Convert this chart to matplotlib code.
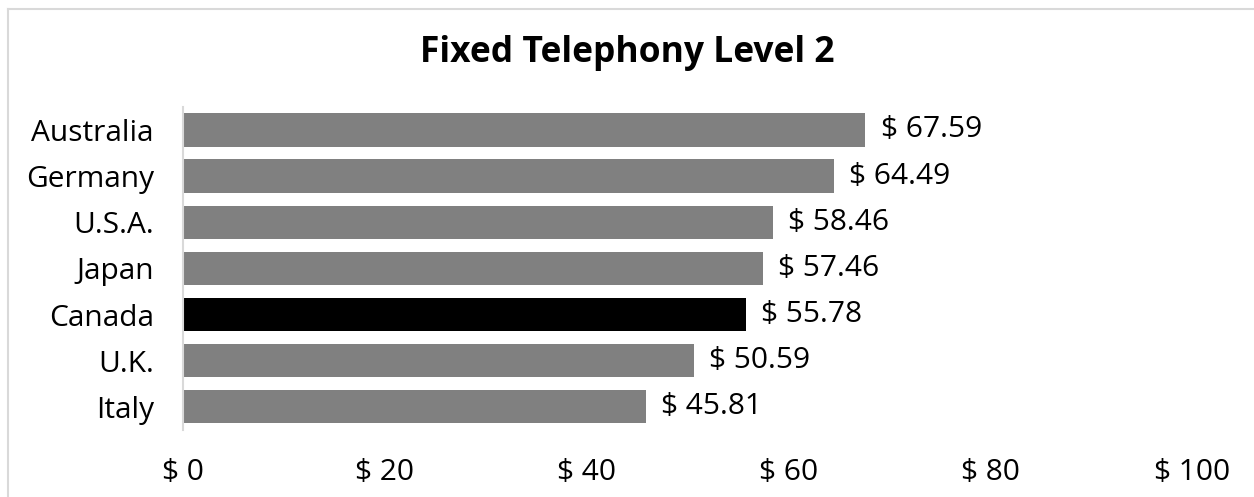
import matplotlib
matplotlib.use("Agg")
import matplotlib.pyplot as plt
from matplotlib.lines import Line2D

# data (top to bottom)
countries = ["Australia", "Germany", "U.S.A.", "Japan", "Canada", "U.K.", "Italy"]
prices = [67.59, 64.49, 58.46, 57.46, 55.78, 50.59, 45.81]
highlight = "Canada"
x_ticks = [0, 20, 40, 60, 80, 100]

plt.rcParams['font.family'] = ['Open Sans', 'DejaVu Sans']

fig = plt.figure(figsize=(12.54, 4.97), dpi=100)
ax = fig.add_axes([0.146, 0.135, 0.805, 0.650])

colors = ['#000000' if c == highlight else '#808080' for c in countries]
ypos = list(range(len(countries)))
bars = ax.barh(ypos, prices, height=0.72, color=colors)

for bar, v in zip(bars, prices):
    ax.annotate(f"$ {v:.2f}", xy=(bar.get_width(), bar.get_y() + bar.get_height() / 2),
                xytext=(11, 0), textcoords="offset points",
                ha='left', va='center', fontsize=21.5, color='black')

ax.set_yticks(ypos)
ax.set_yticklabels(countries, fontsize=21.5)
ax.set_ylim(len(countries) - 0.5, -0.5)
ax.set_xlim(0, 100)
ax.set_xticks(x_ticks)
ax.set_xticklabels([f"$ {t}" for t in x_ticks], fontsize=21.5)
ax.tick_params(axis='both', length=0)
ax.tick_params(axis='x', pad=20)
ax.tick_params(axis='y', pad=21)

for s in ['top', 'right', 'bottom']:
    ax.spines[s].set_visible(False)
ax.spines['left'].set_color('#d9d9d9')
ax.spines['left'].set_linewidth(1.5)

fig.text(0.5, 0.893, "Fixed Telephony Level 2", ha='center', va='center',
         fontsize=25.5, fontweight='bold')

# chart border (top and left only visible in crop)
fig.add_artist(Line2D([8 / 1254, 1], [1 - 9 / 497, 1 - 9 / 497], color='#d9d9d9', lw=1.5,
                      transform=fig.transFigure))
fig.add_artist(Line2D([8 / 1254, 8 / 1254], [0, 1 - 9 / 497], color='#d9d9d9', lw=1.5,
                      transform=fig.transFigure))

fig.savefig("out.png", dpi=100)
